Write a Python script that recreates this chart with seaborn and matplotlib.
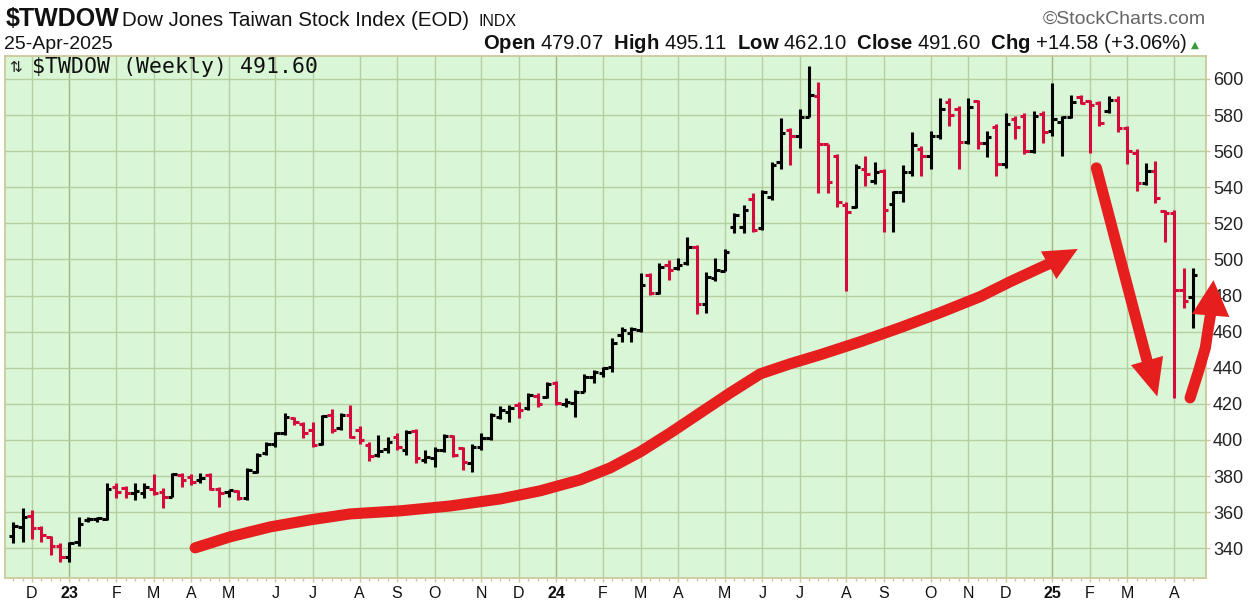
import numpy as np
import pandas as pd
import matplotlib
matplotlib.use("Agg")
import matplotlib.pyplot as plt
import seaborn as sns

# Weekly OHLC values (first bar = week of 21-Nov-2022)
opens = [347, 352, 357.9, 351, 346, 341, 335.4, 343.7, 355.7, 356,
         356, 374.1, 373.2, 370.4, 370.8, 372.7, 371.4, 368.6, 380.6, 379.7,
         377.8, 380.5, 372.6, 371, 371.7, 367.6, 382.4, 392.6, 398, 403.6,
         412, 409, 405.5, 398, 413.8, 406.4, 413.8, 405.5, 397, 391.5,
         394.8, 401.8, 394.4, 405, 389, 389.8, 394.4, 402, 395.3, 387,
         396.2, 400.9, 412.9, 415.6, 419.3, 417.5, 424.5, 424, 431.3, 420,
         420.3, 426.7, 435, 436.9, 440.5, 458.1, 459, 461, 491.3, 481.2,
         496.9, 495, 497.8, 507, 475.3, 489.5, 493.7, 518, 518, 533.3,
         517.2, 534.7, 554, 571.9, 568.6, 578.8, 590.8, 564, 557.5, 530,
         528.9, 550, 543.7, 549.2, 530.7, 537.2, 548.3, 561.2, 557.5, 568.6,
         587, 583.4, 565, 588, 564.5, 573.2, 552.9, 577.8, 579.7, 560.3,
         580.6, 571, 576, 578.8, 589.8, 587.6, 586.7, 582.1, 588.6, 572.9,
         559, 542.4, 548.8, 527, 525.8, 483.3, 479.07]
highs = [354.8, 362.1, 361.2, 352.4, 346.5, 342.8, 343.7, 357.5, 357.5, 357.2,
         376, 376, 374.7, 376.3, 376.3, 381.1, 373.2, 381.9, 381.9, 381.1,
         381.5, 381.5, 373.7, 372.5, 372, 384.2, 392.6, 399, 404.6, 414.7,
         412.9, 410, 410, 413.8, 417, 414.7, 419.2, 407.7, 399, 402.7,
         401.8, 403.6, 405.5, 405.8, 394.4, 396, 403.3, 402.7, 396.2, 398,
         403.6, 415.1, 418.8, 419.3, 421.2, 426.2, 425.8, 432.3, 432.8, 423,
         427.6, 436.5, 438.7, 440.5, 456.3, 462.7, 462.7, 492.3, 492.3, 497.8,
         499.6, 500.6, 512.2, 508, 493.2, 501, 506, 525.5, 530.1, 536.6,
         538.4, 554.1, 578.2, 572.7, 583.4, 607, 598.5, 564, 558.4, 532,
         552.9, 557.5, 553.8, 550.1, 538.1, 552.4, 570.5, 563, 571.4, 589.3,
         589.3, 585.2, 589.3, 588.6, 571.4, 575, 581.2, 579.7, 581.2, 582,
         582, 597.8, 579.7, 591.1, 591.1, 588.6, 587.6, 590.4, 590.8, 573.8,
         560.9, 553.5, 554.4, 527.6, 527.2, 495.3, 495.11]
lows = [342.8, 343.7, 345, 343.7, 336.3, 332.6, 332.6, 341, 354.8, 354.8,
        355.7, 367.7, 367.7, 366.8, 367.7, 369.5, 362.1, 368.6, 374.1, 375,
        376, 372, 362.6, 368.5, 366.7, 366.7, 381.5, 391.6, 396.2, 402.7,
        408.3, 401, 395.9, 397.2, 403.6, 405.5, 400.9, 398, 388.5, 390.7,
        392.6, 394.4, 391.6, 387, 387, 385.2, 393.5, 390.7, 383.3, 382.4,
        394.4, 400, 411.4, 410, 412, 416.6, 418.4, 423, 419.3, 418,
        412.5, 426.7, 431.3, 435, 437.8, 454.4, 454.4, 460, 480.3, 480.8,
        488.6, 494.1, 496.9, 469.7, 470.5, 488.2, 493.7, 514.4, 514.4, 515.3,
        516.3, 532.9, 550.1, 552.4, 561.6, 578.8, 536.8, 536.8, 529, 482.7,
        528.3, 540.9, 541.8, 515, 515, 532, 546.1, 546.4, 550.1, 566.8,
        574.1, 550.1, 564, 561.2, 556.6, 546.4, 550.5, 566.8, 558.4, 559,
        564.5, 568.6, 557.5, 578.2, 586.2, 559, 573.8, 581.2, 570.5, 553.1,
        537.8, 541.5, 531.3, 509.5, 423.3, 473.1, 462.1]
closes = [352.4, 357.5, 351, 347.4, 341, 335.4, 342.8, 353.5, 356.2, 356.6,
          372.7, 371.4, 370.4, 371.9, 374.1, 370.8, 368.6, 381.1, 377.8, 376.9,
          378.7, 373, 370.4, 372, 367.6, 383.3, 391.6, 398, 403.6, 412.9,
          410, 404, 397.2, 413.4, 405.5, 413.8, 401.8, 400, 391, 394,
          399, 396.2, 404.6, 389.8, 390.5, 394.4, 402.2, 391.6, 388, 396.2,
          400.9, 413.8, 416.6, 417.5, 416.6, 424.9, 420, 431, 420.6, 421,
          426.7, 435, 437.8, 439.6, 453.5, 460.9, 461.5, 485.8, 481.2, 496,
          494.1, 496.9, 506.7, 475.3, 490.4, 494, 504.3, 524.6, 527.4, 516.3,
          537.5, 552.3, 570, 568.2, 578.8, 591.1, 564, 543.1, 531.7, 526.5,
          551, 547.4, 548.7, 527.6, 537.2, 548.3, 563.4, 557.5, 568.6, 583.4,
          580, 565, 584.3, 564.5, 568, 552.9, 575, 573.2, 560.3, 579.7,
          570.8, 578, 579, 587.1, 586.5, 585.8, 575.6, 588.6, 572.9, 560,
          542.4, 548.8, 534, 525.5, 483.3, 477.02, 491.6]

y_ticks = [340, 360, 380, 400, 420, 440, 460, 480, 500, 520, 540, 560, 580, 600]

# hand-drawn red arrows (bar index, price)
arrow1_x = [19.43, 23.16, 27.44, 31.71, 35.98, 41.32, 46.67, 52.01, 56.28,
            60.55, 63.76, 66.97, 70.18, 73.38, 76.59, 79.79, 83.0, 86.2,
            90.47, 94.74, 99.0, 103.29, 106.5, 109.7, 111.84]
arrow1_y = [340.2, 346.3, 351.8, 355.7, 359.0, 360.7, 363.4, 367.3, 371.8,
            377.9, 384.5, 393.4, 403.9, 415.0, 426.1, 436.6, 442.2, 447.2,
            454.4, 462.2, 470.5, 479.4, 487.7, 495.4, 500.4]
arrow1_tip = (113.7, 505.8)
arrow2_x = [115.69, 121.1]
arrow2_y = [550.7, 444.0]
arrow2_tip = (122.2, 424.0)
arrow3_x = [125.7, 126.58, 127.33, 127.65, 127.92]
arrow3_y = [423.3, 437.7, 451.0, 462.1, 470.5]
arrow3_tip = (128.2, 488.5)

dates = pd.date_range("2022-11-21", periods=len(closes), freq="W-MON")
n = len(closes)
x = np.arange(n)

UP = "#000000"
DOWN = "#d40b3c"
ARROW = "#e61e1e"
BG = "#d9f6d7"
GRID = "#b6cf9f"
YEARGRID = "#9fb882"
FRAME = "#cdc99c"

sns.set_theme(style="white")
plt.rcParams["font.family"] = ["Liberation Sans", "DejaVu Sans"]
plt.rcParams["mathtext.fontset"] = "custom"
plt.rcParams["mathtext.bf"] = "Liberation Sans:bold"
plt.rcParams["mathtext.rm"] = "Liberation Sans"

W, H = 1249, 601
fig = plt.figure(figsize=(W / 100, H / 100), dpi=100)
fig.patch.set_facecolor("white")


def fx(px):
    return px / W


def fy(py):
    return 1 - py / H


ax = fig.add_axes([fx(5), fy(578), (1206 - 5) / W, (578 - 56) / H])
ax.set_facecolor(BG)

colors = [UP if i == 0 or closes[i] > closes[i - 1] else DOWN for i in range(n)]

ax.vlines(x, lows, highs, colors=colors, lw=2.2, zorder=3)
ax.hlines(opens, x - 0.48, x, colors=colors, lw=2.2, zorder=3)
ax.hlines(closes, x, x + 0.48, colors=colors, lw=2.2, zorder=3)

# month ticks at the first bar of each month
tick_pos, tick_lab, is_year = [], [], []
for i, d in enumerate(dates):
    if d.day <= 7:
        tick_pos.append(i)
        if d.month == 1:
            tick_lab.append(d.strftime("%y"))
            is_year.append(True)
        else:
            tick_lab.append(d.strftime("%b")[0])
            is_year.append(False)

ax.set_xlim(-0.88, 127.4)
ax.set_ylim(323.5, 612.7)
ax.set_xticks(tick_pos)
ax.set_xticklabels(tick_lab)
ax.set_xticks(x, minor=True)
for lab, yr in zip(ax.get_xticklabels(), is_year):
    if yr:
        lab.set_fontweight("bold")
        lab.set_fontsize(13)
ax.set_yticks(y_ticks)
ax.yaxis.tick_right()
ax.grid(True, which="major", color=GRID, lw=1.0, zorder=0)
for gl, yr in zip(ax.get_xgridlines(), is_year):
    if yr:
        gl.set_color(YEARGRID)
ax.set_axisbelow(True)

ax.tick_params(axis="x", which="major", length=3, width=1, color=FRAME,
               labelsize=11.5, pad=3, labelcolor="#111111", bottom=True)
ax.tick_params(axis="x", which="minor", length=2.5, width=1, color=FRAME,
               bottom=True)
ax.tick_params(axis="y", which="major", length=3, width=1, color=FRAME,
               labelsize=13, pad=2, labelcolor="#222222", right=True, left=False)
for sp in ax.spines.values():
    sp.set_color(FRAME)
    sp.set_linewidth(1.3)
ax.set_xlabel("")
ax.set_ylabel("")

# red annotation arrows
for ax_x, ax_y, tip, hl, hw in [(arrow1_x, arrow1_y, arrow1_tip, 0.8, 0.38),
                                (arrow2_x, arrow2_y, arrow2_tip, 0.9, 0.4),
                                (arrow3_x, arrow3_y, arrow3_tip, 0.85, 0.45)]:
    sns.lineplot(x=ax_x, y=ax_y, sort=False, estimator=None, color=ARROW,
                 lw=8, solid_capstyle="round", solid_joinstyle="round",
                 ax=ax, clip_on=False, zorder=5)
    ax.annotate("", xy=tip, xytext=(ax_x[-1], ax_y[-1]),
                arrowprops=dict(arrowstyle=f"-|>,head_length={hl},head_width={hw}",
                                color=ARROW, lw=0, mutation_scale=30,
                                shrinkA=0, shrinkB=0),
                annotation_clip=False, zorder=6)

# legend inside plot
fig.text(fx(9), fy(67), "\u21c5", fontsize=11, va="center", ha="left",
         family="DejaVu Sans", color="#222222")
fig.text(fx(32), fy(67), r"\$TWDOW (Weekly) 491.60", fontsize=15.5, va="center",
         ha="left", family="DejaVu Sans Mono", color="#111111")

# header
fig.text(fx(6), fy(26), r"\$TWDOW", fontsize=18, fontweight="bold", va="baseline",
         ha="left", color="#111111")
fig.text(fx(122), fy(26), "Dow Jones Taiwan Stock Index (EOD)", fontsize=14.8,
         va="baseline", ha="left", color="#111111")
fig.text(fx(479), fy(26), "INDX", fontsize=11.5, va="baseline", ha="left",
         color="#111111")
fig.text(fx(4), fy(49), "25-Apr-2025", fontsize=14, va="baseline", ha="left",
         color="#111111")
fig.text(fx(1187), fy(49),
         r"$\mathbf{Open}$ 479.07  $\mathbf{High}$ 495.11  $\mathbf{Low}$ 462.10  "
         r"$\mathbf{Close}$ 491.60  $\mathbf{Chg}$ +14.58 (+3.06%)",
         fontsize=14.6, va="baseline", ha="right", color="#111111")
fig.text(fx(1191), fy(48), "\u25b2", fontsize=7.5, va="baseline", ha="left",
         family="DejaVu Sans", color="#3a9a3a")
fig.text(fx(1206), fy(24), "\u00a9StockCharts.com", fontsize=14, va="baseline",
         ha="right", color="#666666")

fig.savefig("out.png", dpi=100)
